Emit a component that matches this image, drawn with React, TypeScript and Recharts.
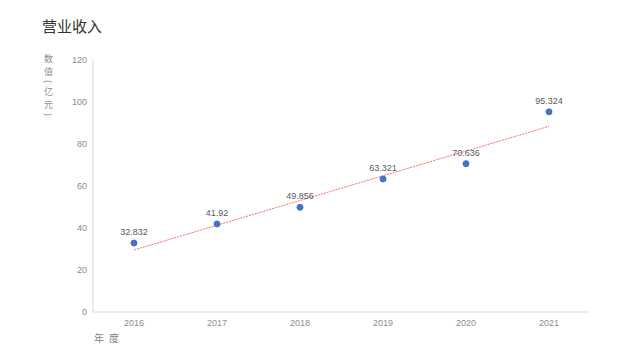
import React from "react";
import {
  ComposedChart,
  Line,
  XAxis,
  YAxis,
  LabelList,
} from "recharts";

const years = ["2016", "2017", "2018", "2019", "2020", "2021"];
const revenue = [32.832, 41.92, 49.856, 63.321, 70.636, 95.324];
const yTicks = [0, 20, 40, 60, 80, 100, 120];

// linear trend line (least squares) fitted to the revenue values
const n = revenue.length;
const meanX = (n - 1) / 2;
const meanY = revenue.reduce((a, b) => a + b, 0) / n;
let sxy = 0;
let sxx = 0;
revenue.forEach((v, i) => {
  sxy += (i - meanX) * (v - meanY);
  sxx += (i - meanX) * (i - meanX);
});
const slope = sxy / sxx;
const intercept = meanY - slope * meanX;

const data = years.map((year, i) => ({
  year,
  revenue: revenue[i],
  trend: intercept + slope * i,
}));

const cjk = '"Noto Sans CJK SC", "Noto Sans", sans-serif';
const num = '"Liberation Sans", Arial, sans-serif';

export default function App() {
  return (
    <div
      style={{
        position: "absolute",
        left: 0,
        top: 0,
        width: 640,
        height: 360,
        background: "#fff",
        fontFamily: cjk,
      }}
    >
      <div
        style={{
          position: "absolute",
          left: 42,
          top: 15,
          fontSize: 15,
          color: "#333",
        }}
      >
        营业收入
      </div>
      <div
        style={{
          position: "absolute",
          left: 43,
          top: 54,
          fontSize: 9,
          lineHeight: "10px",
          color: "#8c8c8c",
          writingMode: "vertical-rl",
          letterSpacing: 4,
        }}
      >
        数值(亿元)
      </div>
      <div
        style={{
          position: "absolute",
          left: 94,
          top: 330,
          fontSize: 10,
          color: "#7f7f7f",
          letterSpacing: 5,
        }}
      >
        年度
      </div>
      <ComposedChart
        width={640}
        height={360}
        data={data}
        margin={{ top: 60, right: 50, left: 0, bottom: 18 }}
      >
        <XAxis
          dataKey="year"
          padding={{ left: 41, right: 41 }}
          axisLine={{ stroke: "#d9d9d9" }}
          tickLine={false}
          tick={{ fontSize: 9, fill: "#8c8c8c", fontFamily: num }}
          tickMargin={2}
        />
        <YAxis
          width={93}
          domain={[0, 120]}
          ticks={yTicks}
          axisLine={{ stroke: "#d9d9d9" }}
          tickLine={false}
          tick={{ fontSize: 9, fill: "#8c8c8c", fontFamily: num }}
          tickSize={4}
          tickMargin={2}
        />
        <Line
          dataKey="trend"
          stroke="#ff6b6b"
          strokeWidth={1}
          strokeDasharray="2 1"
          dot={false}
          activeDot={false}
          isAnimationActive={false}
        />
        <Line
          dataKey="revenue"
          stroke="none"
          dot={{ r: 3, fill: "#4472c4", stroke: "#4472c4", strokeWidth: 1 }}
          activeDot={false}
          isAnimationActive={false}
        >
          <LabelList
            dataKey="revenue"
            position="top"
            offset={8}
            style={{ fontSize: 9, fill: "#595959", fontFamily: num }}
          />
        </Line>
      </ComposedChart>
    </div>
  );
}
